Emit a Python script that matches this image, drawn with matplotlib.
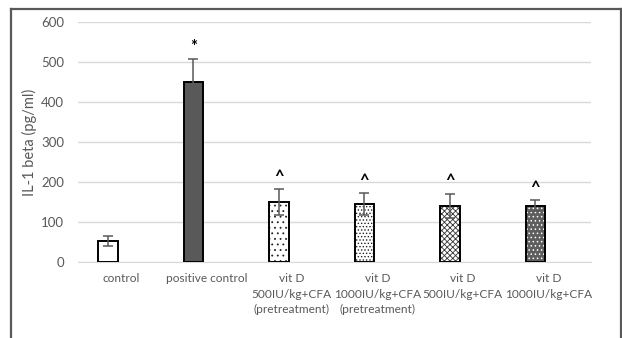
import numpy as np
import matplotlib.pyplot as plt
from matplotlib.lines import Line2D

plt.rcParams['font.family'] = ['Lato', 'DejaVu Sans']
plt.rcParams['hatch.linewidth'] = 0.6

# grupos y valores de IL-1 beta
grupos = ["control", "positive control",
          "vit D\n500IU/kg+CFA\n(pretreatment)",
          "vit D\n1000IU/kg+CFA\n(pretreatment)",
          "vit D\n500IU/kg+CFA",
          "vit D\n1000IU/kg+CFA"]
medias = [53, 450, 150, 145, 141, 141]
errores = [13, 58, 32, 28, 30, 13]
marcas = ["", "*", "^", "^", "^", "^"]

# relleno, color de trama y trama de cada barra
rellenos = ["white", "#595959", "white", "white", "white", "#5e5e5e"]
colores_trama = ["black", "black", "#222222", "#222222", "#333333", "white"]
tramas = [None, None, "...", ".....", "xxxxxx", "...."]

fig = plt.figure(figsize=(6.22, 3.38), dpi=100)
ax = fig.add_axes([0.1254, 0.2249, 0.8248, 0.7101])

x = np.arange(len(grupos))
pos = x - 0.15
ancho = 0.23

for i in range(len(grupos)):
    ax.bar(pos[i], medias[i], ancho, color=rellenos[i], edgecolor=colores_trama[i],
           hatch=tramas[i], linewidth=0, zorder=2)
    ax.bar(pos[i], medias[i], ancho, fill=False, edgecolor="black", linewidth=1.4, zorder=3)

ax.errorbar(pos, medias, yerr=errores, fmt="none", ecolor="#595959",
            elinewidth=1.1, capsize=3.5, capthick=1.1, zorder=4)

for i in range(len(grupos)):
    if marcas[i]:
        ax.annotate(marcas[i], (pos[i], medias[i] + errores[i]), xytext=(0, 3),
                    textcoords="offset points", ha="center", va="bottom",
                    fontsize=12, color="black", fontweight="bold")

ax.set_xlim(-0.5, 5.5)
ax.set_ylim(0, 600)
ax.set_yticks(range(0, 601, 100))
ax.set_xticks(x)
ax.set_xticklabels(grupos, linespacing=1.5)
ax.yaxis.grid(True, color="#d9d9d9", linewidth=1.0, zorder=0)
ax.set_axisbelow(True)
for lado in ["top", "right", "left"]:
    ax.spines[lado].set_visible(False)
ax.spines["bottom"].set_color("#d9d9d9")
ax.tick_params(length=0, labelsize=8.6, labelcolor="#595959", pad=8)
ax.tick_params(axis="y", labelsize=9.5, pad=10)
ax.set_ylabel("IL-1 beta (pg/ml)", fontsize=10.5, color="#595959", labelpad=3)

# marco exterior del grafico
x0, x1 = 11 / 622, 621 / 622
ytop = 1 - 9 / 338
for xs, ys in [([x0, x0], [0, ytop]), ([x0, x1], [ytop, ytop]), ([x1, x1], [ytop, 0])]:
    fig.add_artist(Line2D(xs, ys, color="#595959", linewidth=1.6))

plt.savefig("out.png")
plt.close()
